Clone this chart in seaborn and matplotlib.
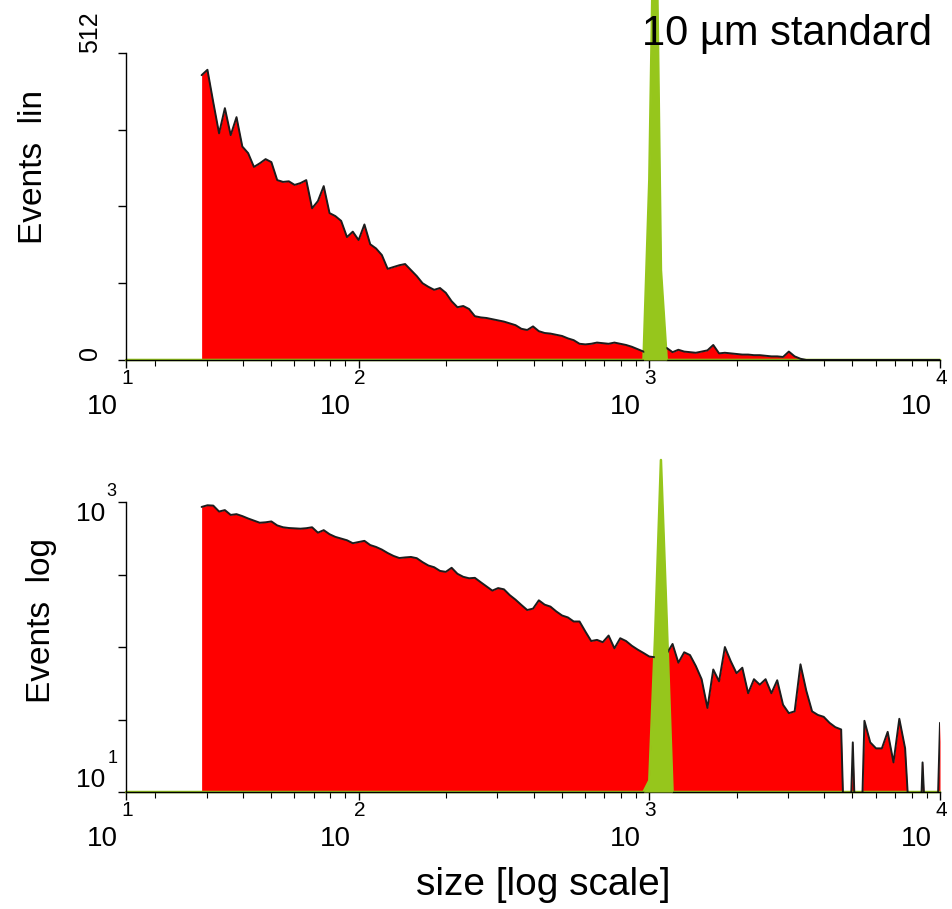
import numpy as np
import matplotlib
matplotlib.use("Agg")
import matplotlib.pyplot as plt
import seaborn as sns
from matplotlib.ticker import FixedLocator, LogLocator, NullFormatter, NullLocator

sns.set_style("ticks")
plt.rcParams["font.family"] = ["Liberation Sans", "DejaVu Sans"]
plt.rcParams["text.color"] = "black"
plt.rcParams["axes.labelcolor"] = "black"
plt.rcParams["xtick.color"] = "black"
plt.rcParams["ytick.color"] = "black"

# Log-amplified channels: size = 10 ** (channel / 50)
axis_channels = np.arange(60, 201)   # the x axis runs from channel 60 to 10^4
red_channels = np.arange(73, 201)    # sample histogram starts at channel 73

# Sample (red) events per channel, linear panel
red_lin = [475, 484, 430, 378, 420, 375, 405, 356, 345, 322,
           328, 335, 330, 300, 297, 298, 292, 295, 300, 253,
           265, 290, 245, 240, 232, 205, 214, 200, 226, 193,
           186, 175, 152, 155, 158, 160, 150, 140, 128, 122,
           117, 120, 112, 98, 88, 90, 85, 73, 71, 70,
           68, 66, 64, 61, 58, 52, 50, 56, 48, 45,
           44, 42, 40, 36, 33, 27, 26, 27, 29, 28,
           27, 29, 27, 25, 22, 18, 14, 10, 10, 15,
           20, 13, 17, 14, 13, 12, 14, 16, 25, 11,
           12, 11, 10, 9, 9, 8, 8, 7, 6, 6,
           5, 14, 6, 2, 0, 0, 0, 0, 0, 0,
           0, 0, 0, 0, 0, 0, 0, 0, 0, 0,
           0, 0, 0, 0, 0, 0, 0, 0]

# Sample (red) events per channel, log panel
red_log = [925, 950, 945, 860, 880, 815, 825, 800, 770, 745,
           720, 725, 735, 690, 670, 662, 658, 655, 660, 670,
           615, 640, 600, 575, 560, 545, 520, 530, 540, 505,
           490, 470, 445, 425, 411, 415, 418, 410, 385, 365,
           355, 335, 330, 352, 320, 305, 298, 300, 280, 262,
           245, 255, 250, 228, 212, 195, 180, 184, 210, 196,
           190, 176, 165, 160, 150, 150, 128, 110, 112, 108,
           120, 98, 115, 110, 102, 96, 91, 86, 85, 88,
           90, 105, 78, 92, 88, 74, 60, 38, 70, 58,
           100, 80, 66, 72, 48, 60, 55, 60, 48, 59,
           40, 35, 36, 76, 50, 36, 34, 33, 30, 28,
           27, 1, 22, 1, 31, 22, 20, 20, 26, 16,
           32, 20, 4, 1, 16, 2, 1, 30]

# 10 um standard beads (green), only the non-empty channels
green_channels = [149, 150, 151, 152, 153, 154]
green_lin = [0, 300, 900, 150, 0, 0]
green_log = [0, 12, 120, 1950, 150, 0]

x_exponents = ["1", "2", "3", "4"]

RED = "#ff0000"
GREEN = "#96c61c"
EDGE = "#1c1c1c"


def size(ch):
    return 10 ** (np.asarray(ch) / 50)


def draw_panel(ax, red, green_peak, floor):
    green = np.full(len(axis_channels), float(floor))
    for ch, v in zip(green_channels, green_peak):
        green[ch - axis_channels[0]] = max(v, floor)

    ax.set_xscale("log")
    ax.fill_between(size(red_channels), floor, red, color=RED, linewidth=0, zorder=1)
    sns.lineplot(x=size(axis_channels), y=green, color=GREEN, linewidth=1.8,
                 clip_on=False, zorder=1.5, ax=ax)
    sns.lineplot(x=size(red_channels), y=red, color=EDGE, linewidth=1.4, zorder=2, ax=ax)
    ax.fill_between(size(axis_channels), floor, green, color=GREEN, linewidth=0,
                    clip_on=False, zorder=3)

    # x axis: log decades, first tick sits at the axis origin
    ticks = [size(axis_channels[0]), 1e2, 1e3, 1e4]
    ax.set_xlim(ticks[0], 1e4)
    ax.xaxis.set_major_locator(FixedLocator(ticks))
    ax.xaxis.set_minor_locator(LogLocator(base=10, subs=np.arange(2, 10)))
    ax.xaxis.set_major_formatter(NullFormatter())
    ax.xaxis.set_minor_formatter(NullFormatter())
    ax.tick_params(axis="x", which="major", length=6, width=1, color="black", direction="out")
    ax.tick_params(axis="x", which="minor", length=4, width=0.8, color="black", direction="out")
    for pos, e in zip(ticks, x_exponents):
        ax.annotate("10", xy=(pos, 0), xycoords=("data", "axes fraction"),
                    xytext=(-8, -34), textcoords="offset pixels",
                    ha="right", va="top", fontsize=20, color="black")
        ax.annotate(e, xy=(pos, 0), xycoords=("data", "axes fraction"),
                    xytext=(1, -9), textcoords="offset pixels",
                    ha="center", va="top", fontsize=15, color="black")

    sns.despine(ax=ax)
    for side in ["left", "bottom"]:
        ax.spines[side].set_color("black")
        ax.spines[side].set_linewidth(1)
    ax.set_xlabel("")


fig = plt.figure(figsize=(9.52, 9.09), dpi=100)
ax_lin = fig.add_axes([0.1324, 0.6040, 0.8550, 0.3377])
ax_log = fig.add_axes([0.1324, 0.1287, 0.8550, 0.3190])

# top panel: linear counts
draw_panel(ax_lin, red_lin, green_lin, 0)
ax_lin.set_ylim(0, 512)
ax_lin.set_yticks([0, 128, 256, 384, 512])
ax_lin.set_yticklabels(["0", "", "", "", "512"], rotation=90, va="bottom", fontsize=18)
ax_lin.tick_params(axis="y", length=6, width=1, color="black", pad=11)
ax_lin.set_ylabel("Events  lin", fontsize=24)
ax_lin.yaxis.set_label_coords(-0.0946, 0.629)

# bottom panel: log counts
draw_panel(ax_log, red_log, green_log, 10)
ax_log.set_yscale("log")
ax_log.set_ylim(10, 1000)
ax_log.set_yticks([10, 10 ** 1.5, 100, 10 ** 2.5, 1000])
ax_log.yaxis.set_minor_locator(NullLocator())
ax_log.set_yticklabels(["10", "", "", "", "10"], fontsize=19)
ylabs = ax_log.get_yticklabels()
ylabs[0].set_va("bottom")
ylabs[4].set_va("top")
ax_log.tick_params(axis="y", length=6, width=1, color="black", pad=9)
ax_log.annotate("3", xy=(0, 1000), xycoords=("axes fraction", "data"), xytext=(-15, 2),
                textcoords="offset pixels", ha="center", va="bottom", fontsize=13)
ax_log.annotate("1", xy=(0, 10), xycoords=("axes fraction", "data"), xytext=(-13, 25),
                textcoords="offset pixels", ha="center", va="bottom", fontsize=13)
ax_log.set_ylabel("Events  log", fontsize=24)
ax_log.yaxis.set_label_coords(-0.0848, 0.593)

fig.text(0.8272, 0.9505, "10 µm standard", ha="center", va="baseline", fontsize=30)
fig.text(0.571, 0.0154, "size [log scale]", ha="center", va="baseline", fontsize=28)

fig.savefig("out.png", dpi=100)
